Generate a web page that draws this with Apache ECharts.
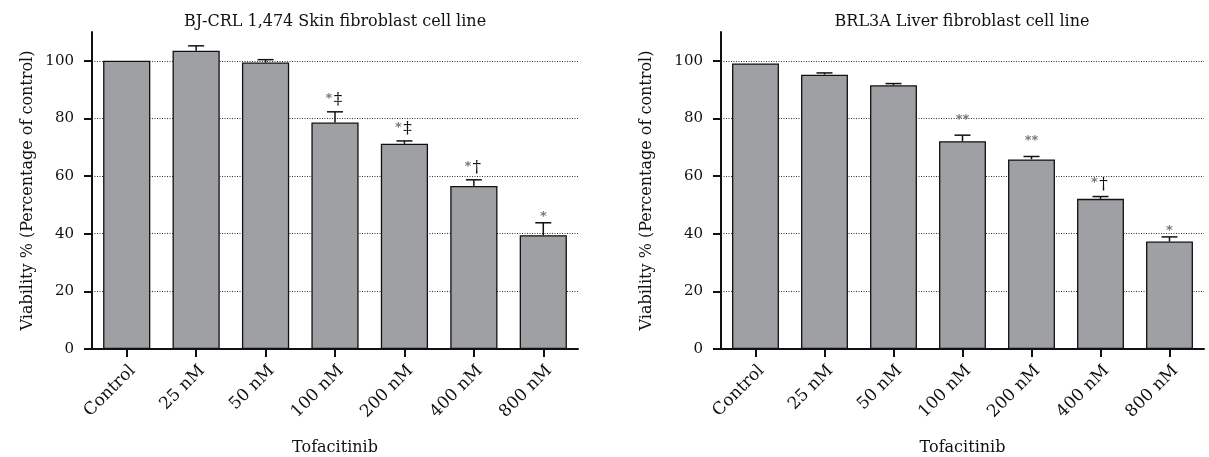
<!DOCTYPE html>
<html><head><meta charset="utf-8">
<script src="https://cdn.jsdelivr.net/npm/echarts@6/dist/echarts.min.js"></script>
<style>html,body{margin:0;padding:0;background:#fff}#c{width:1209px;height:457px}</style>
</head><body><div id="c"></div>
<script>
const categories = ['Control', '25 nM', '50 nM', '100 nM', '200 nM', '400 nM', '800 nM'];
const skinTitle = 'BJ-CRL 1,474 Skin fibroblast cell line';
const liverTitle = 'BRL3A Liver fibroblast cell line';
const skinMean = [100, 103.5, 99.4, 78.6, 71.2, 56.6, 39.5];
const skinErrTop = [100, 105.2, 100.4, 82.3, 72.2, 58.7, 43.8];
const skinMarks = ['', '', '', '*‡', '*‡', '*†', '*'];
const liverMean = [99.1, 95.2, 91.5, 72.1, 65.8, 52.1, 37.3];
const liverErrTop = [99.1, 95.8, 92.1, 74.2, 66.8, 52.9, 38.9];
const liverMarks = ['', '', '', '**', '**', '*†', '*'];
const yTicks = [0, 20, 40, 60, 80, 100];
const yName = 'Viability % (Percentage of control)';
const xName = 'Tofacitinib';

const FONT = 'DejaVu Serif';
const INK = '#111';

function makeErr(marks) {
  return function (params, api) {
    const i = api.value(0);
    const top = api.coord([i, api.value(1)]);
    const base = api.coord([i, api.value(2)]);
    const children = [];
    const st = { stroke: INK, lineWidth: 1.5 };
    if (base[1] - top[1] > 0.5) {
      children.push({ type: 'line', shape: { x1: top[0], y1: base[1], x2: top[0], y2: top[1] }, style: st });
      children.push({ type: 'line', shape: { x1: top[0] - 8, y1: top[1], x2: top[0] + 8, y2: top[1] }, style: st });
    }
    const m = marks[params.dataIndex];
    if (m) {
      const stars = m.replace(/[^*]/g, '');
      const sym = m.replace(/\*/g, '');
      const starText = (x, y) => ({ type: 'text', x: x, y: y, style: { text: stars, fill: '#7a7a7a', font: 'bold 13px "DejaVu Sans"', align: 'center', verticalAlign: 'middle' } });
      if (sym) {
        children.push(starText(top[0] - 6, top[1] - 17.6 + 4));
        children.push({ type: 'text', x: top[0] + 3, y: top[1] - 12, style: { text: sym, fill: INK, font: '17px "DejaVu Serif"', align: 'center', verticalAlign: 'middle' } });
      } else if (stars.length === 2) {
        children.push(starText(top[0], top[1] - 20 + 4));
      } else {
        children.push(starText(top[0], top[1] - 10 + 4));
      }
    }
    return { type: 'group', children: children };
  };
}

function xAxisCfg(gi) {
  return {
    type: 'category', gridIndex: gi, data: categories, boundaryGap: true,
    axisLine: { show: true, lineStyle: { color: INK, width: 2 } },
    axisTick: { show: true, alignWithLabel: true, length: 8, lineStyle: { color: INK, width: 2 } },
    axisLabel: { rotate: 45, fontFamily: FONT, fontSize: 17, color: INK, margin: 13, verticalAlign: 'top' },
    name: xName, nameLocation: 'middle', nameGap: 91,
    nameTextStyle: { fontFamily: FONT, fontSize: 16, color: INK },
    splitLine: { show: false }
  };
}
function yAxisCfg(gi, gap) {
  return {
    type: 'value', gridIndex: gi, min: 0, max: 110, interval: 20,
    axisLine: { show: true, lineStyle: { color: INK, width: 2 } },
    axisTick: { show: true, length: 8, lineStyle: { color: INK, width: 2 }, customValues: yTicks },
    axisLabel: { fontFamily: FONT, fontSize: 15, color: INK, margin: 18, customValues: yTicks },
    splitLine: { show: true, showMinLine: false, showMaxLine: true, lineStyle: { color: '#333', width: 1, type: [1, 1.5] } },
    name: yName, nameLocation: 'middle', nameGap: gap, nameRotate: 90,
    nameTextStyle: { fontFamily: FONT, fontSize: 16, color: INK }
  };
}
function barSeries(gi, mean) {
  return {
    type: 'bar', xAxisIndex: gi, yAxisIndex: gi, data: mean, barWidth: '68%', z: 2,
    itemStyle: { color: '#9fa0a4', borderColor: INK, borderWidth: 1.3 },
    silent: true, animation: false
  };
}
function errSeries(gi, mean, errTop, marks) {
  return {
    type: 'custom', xAxisIndex: gi, yAxisIndex: gi, z: 3,
    data: categories.map((c, i) => [i, errTop[i], mean[i]]),
    encode: { x: 0, y: 1 },
    renderItem: makeErr(marks), silent: true, animation: false
  };
}

const chart = echarts.init(document.getElementById('c'));
chart.setOption({
  animation: false,
  backgroundColor: '#fff',
  grid: [
    { left: 92, right: 631, top: 32, bottom: 108, outerBoundsMode: 'none', containLabel: false },
    { left: 721, right: 5, top: 32, bottom: 108, outerBoundsMode: 'none', containLabel: false }
  ],
  xAxis: [xAxisCfg(0), xAxisCfg(1)],
  yAxis: [yAxisCfg(0, 56), yAxisCfg(1, 66)],
  graphic: [
    { type: 'text', x: 335, y: 22, style: { text: skinTitle, font: '16px "DejaVu Serif"', fill: INK, align: 'center', verticalAlign: 'middle' } },
    { type: 'text', x: 962, y: 22, style: { text: liverTitle, font: '16px "DejaVu Serif"', fill: INK, align: 'center', verticalAlign: 'middle' } }
  ],
  series: [
    barSeries(0, skinMean), errSeries(0, skinMean, skinErrTop, skinMarks),
    barSeries(1, liverMean), errSeries(1, liverMean, liverErrTop, liverMarks)
  ]
});
</script></body></html>
